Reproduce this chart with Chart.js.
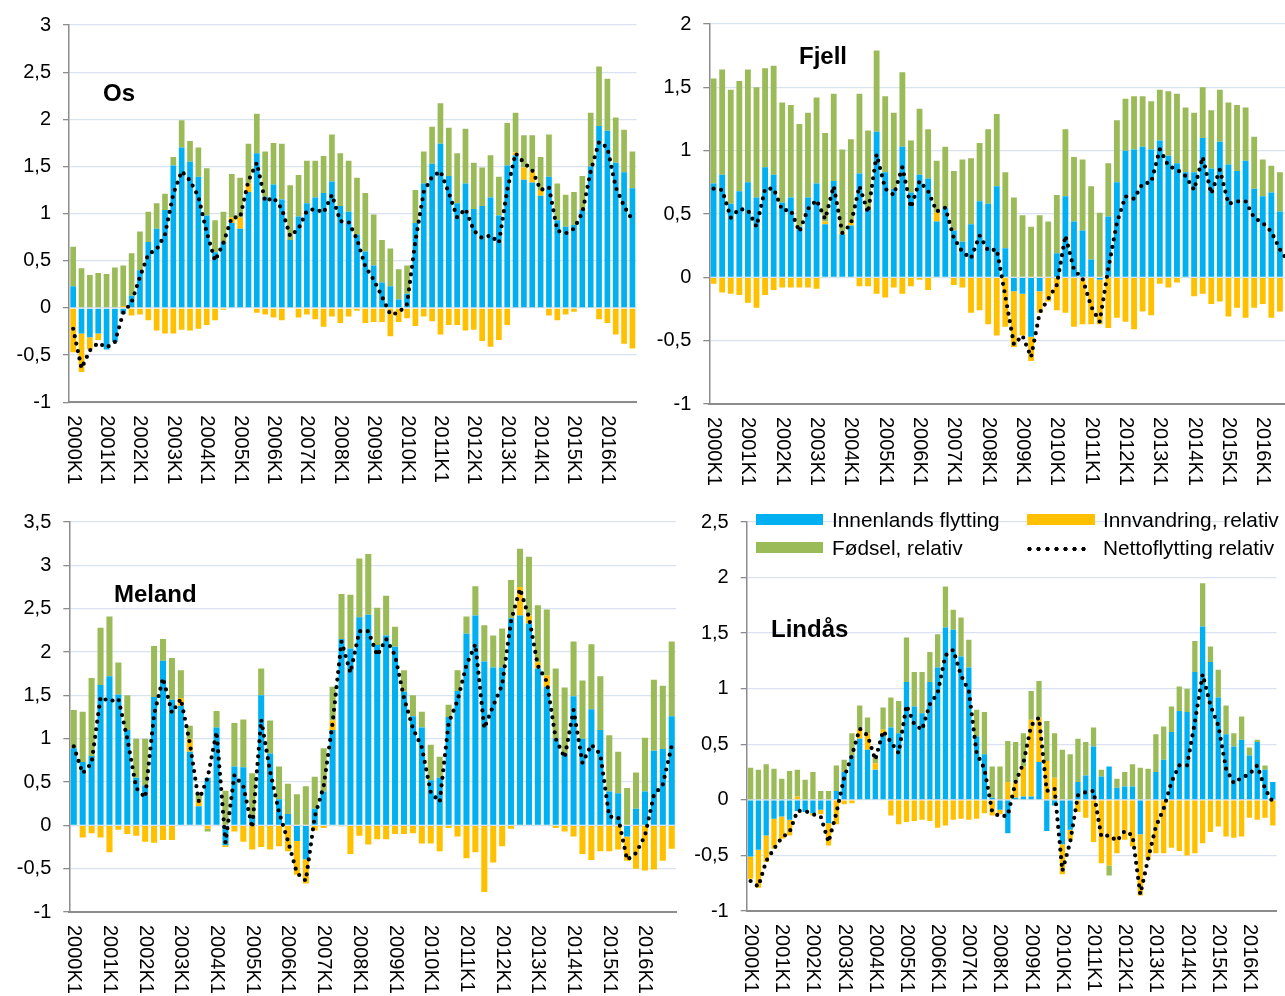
<!DOCTYPE html>
<html>
<head>
<meta charset="utf-8">
<script src="https://cdn.jsdelivr.net/npm/chart.js@4/dist/chart.umd.min.js"></script>
<style>
  html, body { margin: 0; padding: 0; width: 1285px; height: 996px; overflow: hidden; background: #fff; }
  body { font-family: "Liberation Sans", Arial, sans-serif; color: #000; }
  canvas { position: absolute; }
  .title { position: absolute; font-weight: bold; font-size: 24px; line-height: 24px; white-space: nowrap; }
  .leg { position: absolute; font-size: 20.8px; line-height: 20.8px; white-space: nowrap; }
  .box { position: absolute; height: 10.5px; width: 67px; }
  .dots { position: absolute; height: 6px; width: 63px;
          background-image: radial-gradient(circle at center, #000 1.9px, rgba(0,0,0,0) 2.4px);
          background-size: 9px 6px; }
</style>
</head>
<body>
<canvas id="cOs" width="645" height="498" style="left:0px;top:0px"></canvas>
<canvas id="cFjell" width="656" height="498" style="left:640px;top:0px"></canvas>
<canvas id="cMeland" width="680" height="498" style="left:0px;top:498px"></canvas>
<canvas id="cLindas" width="605" height="498" style="left:680px;top:498px"></canvas>

<div class="title" style="left:103px;top:81px">Os</div>
<div class="title" style="left:799px;top:44px">Fjell</div>
<div class="title" style="left:114px;top:582px">Meland</div>
<div class="title" style="left:771px;top:617px">Lindås</div>

<div class="box" style="left:756px;top:514px;background:#00B0F0"></div>
<div class="leg" style="left:832px;top:510px">Innenlands flytting</div>
<div class="box" style="left:756px;top:542px;background:#9BBB59"></div>
<div class="leg" style="left:832px;top:537.5px">Fødsel, relativ</div>
<div class="box" style="left:1027px;top:514px;width:68px;background:#FFC000"></div>
<div class="leg" style="left:1103px;top:510px">Innvandring, relativ</div>
<div class="dots" style="left:1025px;top:545.5px"></div>
<div class="leg" style="left:1103px;top:537.5px">Nettoflytting relativ</div>

<script>
// kvartal 2000K1 - 2016K4
const years = [2000, 2001, 2002, 2003, 2004, 2005, 2006, 2007, 2008, 2009, 2010, 2011, 2012, 2013, 2014, 2015, 2016];
const quarters = ["K1", "K2", "K3", "K4"];
const labels = [];
years.forEach(y => quarters.forEach(q => labels.push(y + q)));

// Os
const osInnenlands = [0.23,-0.27,-0.31,-0.27,-0.44,-0.36,-0.06,0.13,0.40,0.70, 0.84,1.04,1.51,1.70,1.55,1.39,0.98,0.59,0.70,0.90, 0.84,1.23,1.64,1.18,1.31,1.15,0.72,0.97,1.11,1.17, 1.22,1.34,1.08,1.02,0.78,0.60,0.45,0.27,0.23,0.09, 0.15,0.90,1.32,1.53,1.74,1.40,1.11,1.32,1.05,1.08, 1.17,0.98,1.51,1.62,1.36,1.33,1.19,1.39,0.93,0.86, 0.88,1.04,1.50,1.93,1.88,1.54,1.44,1.27];
const osInnvandring = [-0.47,-0.41,-0.13,-0.07,0,0,0.02,-0.08,-0.07,-0.13, -0.24,-0.27,-0.27,-0.23,-0.24,-0.22,-0.18,-0.13,-0.02,0.06, 0.12,0.09,-0.05,-0.07,-0.10,-0.13,0,-0.10,-0.07,-0.12, -0.20,-0.09,-0.16,-0.09,-0.03,-0.16,-0.15,-0.15,-0.30,-0.15, -0.11,-0.19,-0.09,-0.14,-0.28,-0.18,-0.18,-0.24,-0.23,-0.35, -0.41,-0.34,-0.18,0.03,0.13,0.13,0.06,-0.08,-0.13,-0.07, -0.04,0,0,-0.12,-0.16,-0.28,-0.38,-0.43];
const osFodsel = [0.42,0.42,0.35,0.37,0.36,0.43,0.43,0.45,0.41,0.32, 0.27,0.17,0.09,0.29,0.22,0.31,0.50,0.34,0.32,0.46, 0.42,0.42,0.42,0.48,0.44,0.59,0.58,0.44,0.45,0.39, 0.39,0.50,0.56,0.54,0.60,0.62,0.54,0.45,0.40,0.32, 0.30,0.35,0.34,0.39,0.43,0.51,0.53,0.58,0.49,0.41, 0.45,0.41,0.45,0.42,0.34,0.37,0.35,0.45,0.39,0.34, 0.35,0.36,0.57,0.63,0.55,0.48,0.45,0.39];
const osNetto = [-0.22,-0.64,-0.45,-0.37,-0.42,-0.36,-0.05,0.06,0.33,0.57, 0.62,0.78,1.21,1.45,1.35,1.18,0.80,0.50,0.69,0.96, 0.96,1.35,1.54,1.13,1.17,1.05,0.76,0.84,1.03,1.05, 1.01,1.20,0.92,0.91,0.73,0.44,0.30,0.12,-0.07,-0.05, 0.04,0.71,1.23,1.39,1.45,1.22,0.96,1.05,0.82,0.74, 0.77,0.69,1.25,1.64,1.54,1.46,1.25,1.28,0.82,0.79, 0.84,1.01,1.45,1.76,1.70,1.28,1.08,0.93];

// Fjell
const fjInnenlands = [0.74,0.81,0.58,0.68,0.75,0.63,0.87,0.81,0.59,0.63, 0.40,0.63,0.74,0.42,0.76,0.34,0.41,0.82,0.54,1.15, 0.83,0.70,1.03,0.67,0.81,0.78,0.44,0.55,0.37,0.28, 0.42,0.60,0.58,0.72,0.23,-0.11,-0.13,-0.47,-0.11,0, 0.19,0.64,0.44,0.37,0.14,-0.02,0.48,0.75,1.00,1.01, 1.03,1.01,1.08,0.96,0.90,0.83,0.83,1.10,0.86,1.07, 0.89,0.84,0.92,0.70,0.64,0.67,0.52,0.45];
const fjInnvandring = [-0.05,-0.12,-0.13,-0.14,-0.20,-0.24,-0.14,-0.10,-0.08,-0.08, -0.08,-0.08,-0.09,0.02,0,0.02,0.02,-0.07,-0.07,-0.13, -0.16,-0.08,-0.13,-0.07,-0.02,-0.10,0.07,0,-0.06,-0.08, -0.28,-0.26,-0.37,-0.46,-0.39,-0.44,-0.33,-0.19,-0.17,-0.19, -0.26,-0.28,-0.39,-0.37,-0.37,-0.35,-0.40,-0.32,-0.35,-0.41, -0.27,-0.30,-0.05,-0.08,-0.04,0,-0.15,-0.13,-0.21,-0.19, -0.31,-0.24,-0.32,-0.24,-0.21,-0.32,-0.27,-0.30];
const fjFodsel = [0.83,0.83,0.90,0.87,0.89,0.87,0.78,0.86,0.79,0.73, 0.81,0.67,0.68,0.70,0.69,0.65,0.66,0.63,0.62,0.64, 0.60,0.60,0.59,0.41,0.52,0.39,0.41,0.48,0.47,0.65, 0.52,0.46,0.59,0.57,0.60,0.63,0.49,0.40,0.49,0.44, 0.46,0.53,0.51,0.56,0.58,0.51,0.42,0.49,0.41,0.42, 0.40,0.38,0.40,0.51,0.55,0.51,0.47,0.40,0.46,0.41, 0.49,0.52,0.42,0.41,0.29,0.21,0.31,0.30];
const fjNetto = [0.70,0.69,0.47,0.54,0.53,0.40,0.70,0.70,0.53,0.53, 0.36,0.54,0.61,0.46,0.72,0.35,0.42,0.72,0.51,0.97, 0.70,0.65,0.87,0.55,0.76,0.68,0.52,0.55,0.31,0.20, 0.15,0.33,0.21,0.22,-0.15,-0.53,-0.46,-0.63,-0.28,-0.17, -0.06,0.33,0.06,-0.01,-0.23,-0.35,0.07,0.43,0.64,0.62, 0.74,0.75,1.01,0.88,0.85,0.80,0.69,0.95,0.66,0.85, 0.58,0.60,0.60,0.47,0.43,0.36,0.22,0.12];

// Meland
const meInnenlands = [0.89,0.73,0.80,1.62,1.72,1.51,1.10,0.55,0.46,1.48, 1.90,1.45,1.38,0.85,0.22,0.55,1.13,-0.23,0.68,0.67, 0.09,1.50,0.83,0.30,0.13,-0.18,-0.39,0.19,0.39,1.10, 2.15,2.04,2.40,2.43,2.08,2.19,2.06,1.54,1.26,1.13, 0.52,0.55,1.25,1.55,2.21,2.42,1.89,1.82,1.82,2.39, 2.42,2.33,1.81,1.60,1.00,0.83,1.49,1.00,1.34,1.10, 0.39,0.37,-0.13,0.19,0.39,0.86,0.88,1.26];
const meInnvandring = [0,-0.14,-0.09,-0.14,-0.31,-0.05,-0.10,-0.12,-0.19,-0.20, -0.17,-0.17,0.09,0.15,0.07,-0.04,0,-0.02,-0.07,-0.19, -0.28,-0.25,-0.28,-0.24,-0.30,-0.39,-0.28,-0.06,-0.03,0.11, -0.01,-0.33,-0.12,-0.22,-0.16,-0.16,-0.10,-0.10,-0.09,-0.21, -0.21,-0.30,-0.03,-0.13,-0.38,-0.31,-0.77,-0.43,-0.24,-0.04, 0.33,0.09,0.07,0.13,-0.03,-0.07,-0.13,-0.33,-0.40,-0.30, -0.30,-0.28,-0.28,-0.50,-0.52,-0.51,-0.41,-0.27];
const meFodsel = [0.44,0.58,0.90,0.66,0.69,0.37,0.40,0.45,0.54,0.59, 0.25,0.48,0.32,0.15,0.08,-0.03,0.19,0.40,0.50,0.55, 0.51,0.31,0.38,0.38,0.35,0.36,0.45,0.37,0.50,0.39, 0.52,0.62,0.68,0.70,0.43,0.46,0.23,0.25,0.24,0.18, 0.41,0.24,0.14,0.24,0.20,0.34,0.42,0.37,0.45,0.44, 0.44,0.68,0.66,0.76,0.81,0.76,0.63,0.67,0.75,0.62, 0.65,0.48,0.43,0.42,0.62,0.82,0.73,0.86];
const meNetto = [0.91,0.60,0.72,1.48,1.43,1.46,1.00,0.43,0.32,1.28, 1.70,1.30,1.46,0.95,0.28,0.55,1.08,-0.20,0.58,0.45, -0.03,1.22,0.62,0.15,-0.18,-0.55,-0.64,0.10,0.45,1.18, 2.12,1.76,2.24,2.24,1.96,2.15,1.96,1.47,1.12,0.90, 0.38,0.27,1.18,1.44,1.85,2.09,1.12,1.38,1.62,2.36, 2.73,2.40,1.84,1.66,1.00,0.78,1.33,0.72,0.93,0.82, 0.10,0.09,-0.40,-0.32,-0.12,0.35,0.47,0.92];

// Lindås
const liInnenlands = [-0.51,-0.45,-0.32,-0.17,-0.15,-0.18,-0.10,-0.11,-0.12,-0.09, -0.21,0.08,0.25,0.40,0.55,0.45,0.27,0.58,0.65,0.60, 1.06,0.84,0.78,1.06,1.19,1.55,1.53,1.29,1.19,0.57, 0.41,0.02,-0.09,-0.30,0.02,0.03,0.03,0.34,-0.28,-0.05, -0.40,-0.27,0.16,0.22,0.48,0.21,0.30,0.11,0.12,0.12, -0.31,0,0.25,0.36,0.61,0.80,0.79,1.15,1.56,1.24, 0.92,0.59,0.48,0.54,0.40,0.52,0.27,0.16];
const liInnvandring = [-0.20,-0.34,-0.24,-0.27,-0.20,-0.14,0.03,0,-0.02,-0.04, -0.20,-0.22,-0.04,-0.03,0.09,0.15,0.06,0.05,-0.14,-0.22, -0.20,-0.19,-0.18,-0.19,-0.25,-0.23,-0.18,-0.17,-0.18,-0.17, -0.12,-0.14,-0.04,0.16,0.14,0.27,0.69,0.40,0.35,0.20, -0.27,-0.09,-0.11,-0.16,-0.38,-0.57,-0.59,-0.48,-0.36,-0.42, -0.55,-0.54,-0.48,-0.48,-0.43,-0.46,-0.50,-0.48,-0.39,-0.29, -0.24,-0.33,-0.34,-0.33,-0.16,-0.18,-0.16,-0.23];
const liFodsel = [0.29,0.27,0.32,0.28,0.19,0.26,0.24,0.18,0.25,0.08, 0.08,0.23,0.11,0.20,0.21,0.14,0.07,0.20,0.27,0.29, 0.40,0.31,0.37,0.27,0.30,0.37,0.18,0.35,0.25,0.24, 0.38,0.28,0.30,0.37,0.36,0.30,0.26,0.33,0.36,0.40, 0.45,0.41,0.39,0.30,0.17,0.06,-0.09,0.08,0.13,0.20, 0.29,0.28,0.34,0.30,0.23,0.22,0.21,0.28,0.39,0.14, 0.25,0.26,0.12,0.21,0.07,0.02,0.04,0];
const liNetto = [-0.73,-0.78,-0.55,-0.44,-0.34,-0.29,-0.10,-0.10,-0.13,-0.15, -0.38,-0.12,0.20,0.40,0.64,0.58,0.36,0.62,0.52,0.42, 0.85,0.68,0.63,0.86,0.96,1.30,1.35,1.12,0.98,0.42, 0.28,-0.11,-0.15,-0.14,0.16,0.33,0.67,0.74,0.08,0.10, -0.64,-0.38,0.04,0.07,0.08,-0.33,-0.32,-0.37,-0.28,-0.32, -0.85,-0.53,-0.24,-0.08,0.16,0.31,0.31,0.70,1.13,0.85, 0.67,0.28,0.15,0.20,0.23,0.31,0.10,-0.02];

const FONT = '"Liberation Sans", Arial, sans-serif';
const BLUE = "#00B0F0", YELLOW = "#FFC000", GREEN = "#9BBB59";
const AXIS = "#8C8C8C", GRID = "#D9E2F1";

// x labels rotated clockwise, one per year
const xLabelPlugin = {
  id: "xLabels",
  afterDraw(chart) {
    const ctx = chart.ctx;
    const xs = chart.scales.x;
    const bottom = chart.chartArea.bottom;
    ctx.save();
    ctx.font = "20px " + FONT;
    ctx.fillStyle = "#000";
    ctx.textAlign = "left";
    ctx.textBaseline = "middle";
    chart.data.labels.forEach((lab, i) => {
      if (!lab.endsWith("K1")) return;
      ctx.save();
      ctx.translate(xs.getPixelForValue(i), bottom + 13);
      ctx.rotate(Math.PI / 2);
      ctx.fillText(lab, 0, 0);
      ctx.restore();
    });
    ctx.restore();
  }
};

function makeChart(id, blue, yellow, green, net, yMin, yMax, yWidth, padding) {
  const bar = (label, data, color) => ({
    label, data, backgroundColor: color, borderWidth: 0,
    barPercentage: 0.68, categoryPercentage: 1, order: 1
  });
  new Chart(document.getElementById(id), {
    type: "bar",
    data: {
      labels: labels,
      datasets: [
        bar("Innenlands flytting", blue, BLUE),
        bar("Innvandring, relativ", yellow, YELLOW),
        bar("Fødsel, relativ", green, GREEN),
        {
          type: "line", label: "Nettoflytting relativ", data: net,
          borderColor: "#000", borderWidth: 4.2, borderDash: [0, 7.6],
          borderCapStyle: "round", pointRadius: 0, fill: false, tension: 0,
          stack: "netto", order: 0
        }
      ]
    },
    options: {
      responsive: false,
      animation: false,
      layout: { padding: padding },
      plugins: { legend: { display: false }, tooltip: { enabled: false } },
      scales: {
        x: {
          stacked: true,
          ticks: { display: false },
          grid: { display: false },
          border: { display: true, color: AXIS, width: 2 },
          afterFit: (s) => { s.height = 0; }
        },
        y: {
          stacked: true, min: yMin, max: yMax,
          ticks: {
            stepSize: 0.5, color: "#000", padding: 12,
            font: { family: FONT, size: 20 },
            callback: (v) => String(v).replace(".", ",")
          },
          grid: { color: GRID, lineWidth: 1.3, tickColor: AXIS, tickLength: 6 },
          border: { display: true, color: AXIS, width: 1.5 },
          afterFit: (s) => { s.width = yWidth; }
        }
      }
    },
    plugins: [xLabelPlugin]
  });
}

makeChart("cOs", osInnenlands, osInnvandring, osFodsel, osNetto, -1, 3, 69,
  { left: 0, top: 25, right: 8.4, bottom: 95.7 });
makeChart("cFjell", fjInnenlands, fjInnvandring, fjFodsel, fjNetto, -1, 2, 69.3,
  { left: 0, top: 16.7, right: 3.2, bottom: 94 });
makeChart("cMeland", meInnenlands, meInnvandring, meFodsel, meNetto, -1, 3.5, 69.3,
  { left: 0, top: 12.7, right: 3.8, bottom: 84 });
makeChart("cLindas", liInnenlands, liInnvandring, liFodsel, liNetto, -1, 2.5, 66.7,
  { left: 0, top: 23.7, right: 8.3, bottom: 85 });
</script>
</body>
</html>
